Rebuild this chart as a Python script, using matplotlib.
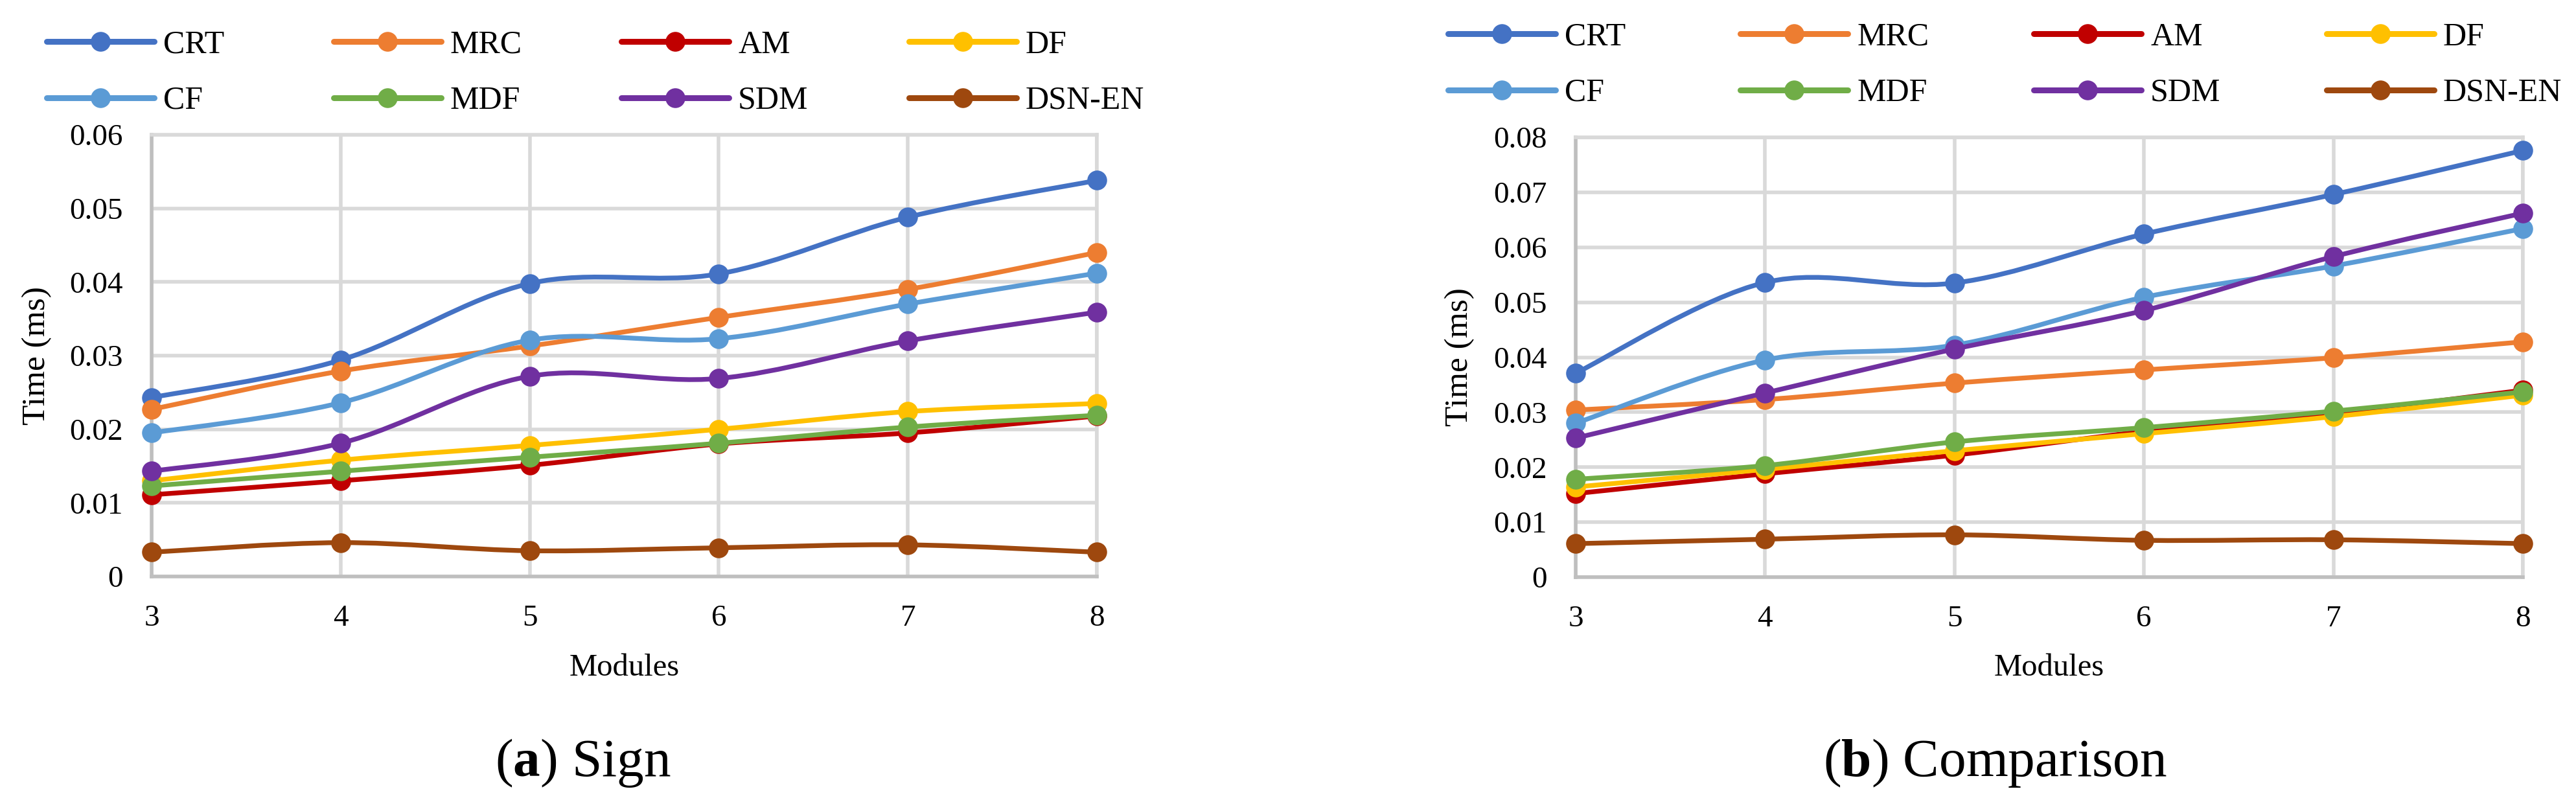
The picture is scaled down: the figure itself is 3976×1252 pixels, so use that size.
import numpy as np
import matplotlib.pyplot as plt
from matplotlib.path import Path
from matplotlib.patches import PathPatch
from matplotlib.lines import Line2D

plt.rcParams['font.family'] = ['Liberation Serif', 'DejaVu Serif']
plt.rcParams['mathtext.fontset'] = 'custom'
plt.rcParams['mathtext.rm'] = 'Liberation Serif'
plt.rcParams['mathtext.bf'] = 'Liberation Serif:bold'

modules = [3, 4, 5, 6, 7, 8]
names = ["CRT", "MRC", "AM", "DF", "CF", "MDF", "SDM", "DSN-EN"]
colors = ["#4472C4", "#ED7D31", "#C00000", "#FFC000",
          "#5B9BD5", "#70AD47", "#7030A0", "#9E480E"]

# (a) Sign
sign_crt = [0.0243, 0.0294, 0.0398, 0.0411, 0.0488, 0.0538]
sign_mrc = [0.0227, 0.0279, 0.0313, 0.0352, 0.0390, 0.0440]
sign_am = [0.0111, 0.0130, 0.0151, 0.0180, 0.0195, 0.0218]
sign_df = [0.0130, 0.0158, 0.0178, 0.0200, 0.0224, 0.0235]
sign_cf = [0.0195, 0.0236, 0.0321, 0.0323, 0.0370, 0.0412]
sign_mdf = [0.0123, 0.0143, 0.0162, 0.0181, 0.0203, 0.0219]
sign_sdm = [0.0143, 0.0181, 0.0272, 0.0269, 0.0320, 0.0359]
sign_dsn = [0.0033, 0.0046, 0.0035, 0.0039, 0.0043, 0.0033]

# (b) Comparison
cmp_crt = [0.0371, 0.0536, 0.0535, 0.0624, 0.0696, 0.0776]
cmp_mrc = [0.0304, 0.0323, 0.0353, 0.0377, 0.0399, 0.0428]
cmp_am = [0.0152, 0.0188, 0.0222, 0.0265, 0.0298, 0.0340]
cmp_df = [0.0164, 0.0196, 0.0230, 0.0261, 0.0292, 0.0331]
cmp_cf = [0.0280, 0.0395, 0.0422, 0.0509, 0.0566, 0.0634]
cmp_mdf = [0.0178, 0.0203, 0.0246, 0.0272, 0.0302, 0.0337]
cmp_sdm = [0.0253, 0.0335, 0.0415, 0.0485, 0.0583, 0.0662]
cmp_dsn = [0.0061, 0.0069, 0.0077, 0.0067, 0.0068, 0.0061]

sign = [sign_crt, sign_mrc, sign_am, sign_df, sign_cf, sign_mdf, sign_sdm, sign_dsn]
comp = [cmp_crt, cmp_mrc, cmp_am, cmp_df, cmp_cf, cmp_mdf, cmp_sdm, cmp_dsn]
y_ticks_a = [0, 0.01, 0.02, 0.03, 0.04, 0.05, 0.06]
y_ticks_b = [0, 0.01, 0.02, 0.03, 0.04, 0.05, 0.06, 0.07, 0.08]
y_labels_a = ["0", "0.01", "0.02", "0.03", "0.04", "0.05", "0.06"]
y_labels_b = ["0", "0.01", "0.02", "0.03", "0.04", "0.05", "0.06", "0.07", "0.08"]


def smooth_path(x, y):
    # Excel-like smoothed line: Catmull-Rom segments as cubic Bezier curves
    p = np.column_stack([x, y]).astype(float)
    ext = np.vstack([p[0], p, p[-1]])
    verts = [p[0]]
    codes = [Path.MOVETO]
    for i in range(len(p) - 1):
        p0, p1, p2, p3 = ext[i], ext[i + 1], ext[i + 2], ext[i + 3]
        verts += [p1 + (p2 - p0) / 6, p2 - (p3 - p1) / 6, p2]
        codes += [Path.CURVE4] * 3
    return Path(verts, codes)


W, H = 3976, 1252
fig = plt.figure(figsize=(W / 100, H / 100), dpi=100)

panels = [
    dict(rect=[234 / W, 1 - 890 / H, 1459 / W, 682 / H], data=sign,
         ticks=y_ticks_a, labels=y_labels_a, ylab_x=57,
         leg_x=[72, 515, 959, 1403], leg_y=112.5,
         cap="(" + r"$\mathbf{a}$" + ") Sign", cap_x=900),
    dict(rect=[2432 / W, 1 - 891 / H, 1462 / W, 679 / H], data=comp,
         ticks=y_ticks_b, labels=y_labels_b, ylab_x=2253,
         leg_x=[2235, 2686, 3139, 3591], leg_y=100.5,
         cap="(" + r"$\mathbf{b}$" + ") Comparison", cap_x=3080),
]

for pn in panels:
    ax = fig.add_axes(pn["rect"])
    for i, vals in enumerate(pn["data"]):
        patch = PathPatch(smooth_path(modules, vals), fill=False,
                          edgecolor=colors[i], lw=5.3, capstyle='round',
                          joinstyle='round', zorder=3 + 2 * i, clip_on=False)
        ax.add_patch(patch)
        ax.plot(modules, vals, 'o', color=colors[i], markersize=22,
                markeredgewidth=0, zorder=4 + 2 * i, clip_on=False)
    ax.set_xlim(3, 8)
    ax.set_ylim(pn["ticks"][0], pn["ticks"][-1])
    ax.set_xticks(modules)
    ax.set_yticks(pn["ticks"])
    ax.set_yticklabels(pn["labels"])
    ax.tick_params(axis='both', length=0, labelsize=34)
    ax.tick_params(axis='y', pad=32)
    ax.tick_params(axis='x', pad=31)
    ax.grid(True, color="#D9D9D9", lw=4, zorder=0)
    ax.set_axisbelow(True)
    for side in ['top', 'right']:
        ax.spines[side].set_color("#D9D9D9")
        ax.spines[side].set_linewidth(4)
    for side in ['left', 'bottom']:
        ax.spines[side].set_color("#BFBFBF")
        ax.spines[side].set_linewidth(4)

    x0 = pn["rect"][0]
    x1 = pn["rect"][0] + pn["rect"][2]
    yc = pn["rect"][1] + pn["rect"][3] / 2
    fig.text(pn["ylab_x"] / W, yc, "Time (ms)", rotation=90, ha='center',
             va='center', fontsize=37)
    fig.text((x0 + x1) / 2, 1 - 1031 / H, "Modules", ha='center',
             va='center', fontsize=35)
    fig.text(pn["cap_x"] / W, 1 - 1198 / H, pn["cap"], ha='center',
             va='baseline', fontsize=60)

    for c in range(4):
        idx = [c, c + 4]
        handles = [Line2D([], [], color=colors[k], lw=6.5, marker='o',
                          markersize=22, markeredgewidth=0,
                          solid_capstyle='round') for k in idx]
        fig.legend(handles, [names[k] for k in idx], loc='center left',
                   bbox_to_anchor=(pn["leg_x"][c] / W, 1 - pn["leg_y"] / H),
                   frameon=False, fontsize=36, borderpad=0, borderaxespad=0,
                   handlelength=3.32, handletextpad=0.28, labelspacing=0.8)

fig.savefig("out.png", dpi=100)
